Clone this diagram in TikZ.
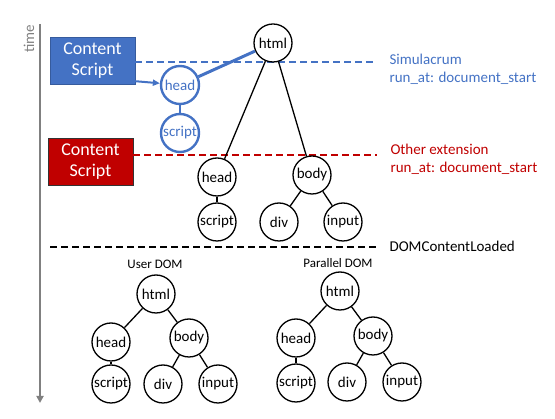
\documentclass[tikz,border=0pt]{standalone}
\usepackage{fontspec}
\setmainfont{Carlito}
\usetikzlibrary{arrows.meta}
\definecolor{simblue}{HTML}{4472C4}
\definecolor{extred}{HTML}{C00000}
\tikzset{
  dom/.style={circle, draw, line width=1.3pt, minimum size=38pt, inner sep=0pt, font=\fontsize{15}{17}\selectfont},
  simdom/.style={dom, draw=simblue, text=simblue, line width=2.4pt},
  scriptbox/.style={draw, minimum width=85pt, minimum height=47pt, align=center, text=white, font=\fontsize{18}{21}\selectfont},
  edge/.style={line width=1.3pt},
  marker/.style={dashed, dash pattern=on 7pt off 4pt, line width=1.2pt},
  note/.style={anchor=west, align=left, font=\fontsize{15}{18}\selectfont}
}
\begin{document}
\begin{tikzpicture}[x=1pt, y=-1pt]
  \useasboundingbox (0,0) rectangle (555,419);
  % time axis
  \coordinate (t0) at (40,24);
  \coordinate (t1) at (40,403);
  \draw[gray, line width=2.6pt, -{Triangle[length=7pt, width=7pt]}] (t0) -- (t1);
  \node[gray, rotate=90, font=\fontsize{15}{17}\selectfont] (time) at (29,39) {time};

  % content scripts
  \node[scriptbox, fill=simblue, draw=simblue!80!black] (cs1) at (92.5,60.5) {Content\\Script};
  \node[scriptbox, fill=extred, draw=black!80] (cs2) at (90.5,162) {Content\\Script};

  % markers
  \coordinate (m1) at (377,62);
  \coordinate (m2a) at (133,155);
  \coordinate (m2) at (377,155);
  \coordinate (m3a) at (50,247);
  \coordinate (m3) at (377,247);
  \draw[marker, simblue] (cs1.east |- m1) -- (m1);
  \draw[marker, extred] (m2a) -- (m2);
  \draw[marker] (m3a) -- (m3);
  \node[note, text=simblue] (simlbl) at (386,69) {Simulacrum\\run\_at: document\_start};
  \node[note, text=extred] (extlbl) at (387,159) {Other extension\\run\_at: document\_start};
  \node[note] (dcl) at (386,246) {DOMContentLoaded};

  % page DOM while loading
  \node[dom, fill=white] (html) at (273,43) {html};
  \node[dom, fill=white] (head) at (217,177) {head};
  \node[dom, fill=white] (body) at (312,175) {body};
  \node[dom] (script) at (217,222) {script};
  \node[dom] (div) at (279,222) {div};
  \node[dom] (input) at (343,222) {input};
  \draw[edge] (html) -- (head);
  \draw[edge] (html) -- (body);
  \draw[edge] (head) -- (script);
  \draw[edge] (body) -- (div);
  \draw[edge] (body) -- (input);

  % injected by simulacrum
  \node[simdom] (shead) at (180,85) {head};
  \node[simdom] (sscript) at (180,133) {script};
  \draw[simblue, line width=2.4pt] (shead) -- (sscript);
  \draw[simblue, line width=3pt] (shead) -- (html);
  \draw[simblue, line width=2pt, -{Triangle[length=7pt, width=6pt]}] ([yshift=3pt]cs1.south east) -- (shead);

  % user DOM
  \node[font=\fontsize{13}{15}\selectfont] (ulbl) at (155,264) {User DOM};
  \node[dom] (uhtml) at (156,294) {html};
  \node[dom] (uhead) at (111,342) {head};
  \node[dom] (ubody) at (189,338) {body};
  \node[dom] (uscript) at (111,384) {script};
  \node[dom] (udiv) at (163,384) {div};
  \node[dom] (uinput) at (218,384) {input};
  \draw[edge] (uhtml) -- (uhead);
  \draw[edge] (uhtml) -- (ubody);
  \draw[edge] (uhead) -- (uscript);
  \draw[edge] (ubody) -- (udiv);
  \draw[edge] (ubody) -- (uinput);

  % parallel DOM
  \node[font=\fontsize{13}{15}\selectfont] (plbl) at (338,263) {Parallel DOM};
  \node[dom] (phtml) at (340,291) {html};
  \node[dom] (phead) at (296,338) {head};
  \node[dom] (pbody) at (373,336) {body};
  \node[dom] (pscript) at (296,383) {script};
  \node[dom] (pdiv) at (347,382) {div};
  \node[dom] (pinput) at (402,382) {input};
  \draw[edge] (phtml) -- (phead);
  \draw[edge] (phtml) -- (pbody);
  \draw[edge] (phead) -- (pscript);
  \draw[edge] (pbody) -- (pdiv);
  \draw[edge] (pbody) -- (pinput);
\end{tikzpicture}
\end{document}
